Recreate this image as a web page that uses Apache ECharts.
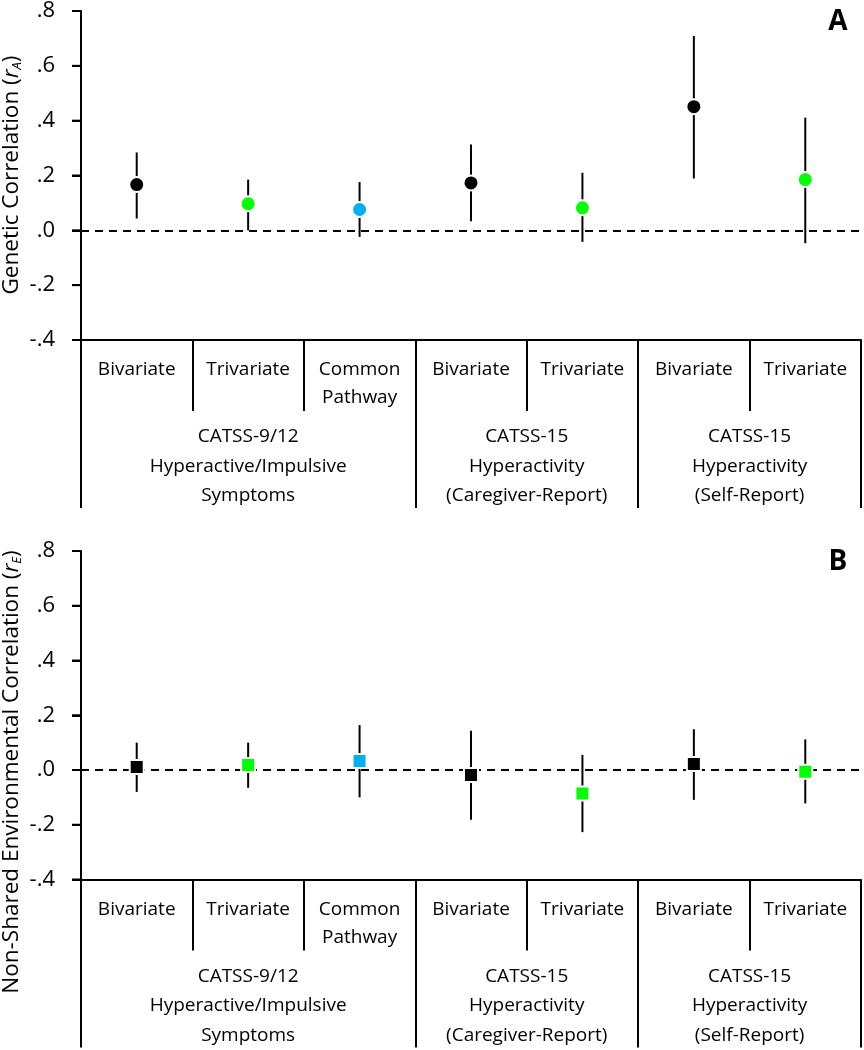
<!DOCTYPE html>
<html>
<head>
<meta charset="utf-8">
<script src="https://cdn.jsdelivr.net/npm/echarts@6/dist/echarts.min.js"></script>
<style>
  html, body { margin: 0; padding: 0; background: #fff; }
  #panelA { width: 864px; height: 540px; }
  #panelB { width: 864px; height: 510px; }
</style>
</head>
<body>
<div id="panelA"></div>
<div id="panelB"></div>
<script>
// ── data ────────────────────────────────────────────────────
const CATEGORIES = ['Bivariate', 'Trivariate', 'Common\nPathway', 'Bivariate', 'Trivariate', 'Bivariate', 'Trivariate']
const GROUPS = [
  'CATSS-9/12\nHyperactive/Impulsive\nSymptoms',
  'CATSS-15\nHyperactivity\n(Caregiver-Report)',
  'CATSS-15\nHyperactivity\n(Self-Report)',
]
const GROUP_EDGES   = [0, 3, 5, 7]
const GROUP_CENTERS = [1.5, 4, 6]
const MODEL_COLORS  = ['#000000', '#00FF00', '#00B0F0', '#000000', '#00FF00', '#000000', '#00FF00']

// panel A: genetic correlation (rA)
const RA_EST = [0.167, 0.097, 0.076, 0.173, 0.082, 0.451, 0.185]
const RA_LO  = [0.043, 0.000, -0.024, 0.033, -0.042, 0.189, -0.047]
const RA_HI  = [0.284, 0.185, 0.176, 0.313, 0.210, 0.709, 0.411]

// panel B: non-shared environmental correlation (rE)
const RE_EST = [0.011, 0.018, 0.033, -0.018, -0.086, 0.022, -0.006]
const RE_LO  = [-0.080, -0.065, -0.100, -0.182, -0.227, -0.109, -0.122]
const RE_HI  = [0.100, 0.100, 0.164, 0.143, 0.055, 0.149, 0.112]

const Y_TICKS = [-0.4, -0.2, 0, 0.2, 0.4, 0.6, 0.8]
const Y_MIN = -0.4, Y_MAX = 0.8, Y_STEP = 0.2

// ── helpers ─────────────────────────────────────────────────
const FONT = 'Open Sans'
const fmtTick = (v) => (v < -1e-9 ? '-' : '') + '.' + Math.round(Math.abs(v) * 10)

function axisName(x, y, label, sub) {
  return {
    id: 'yname', type: 'text', x, y, rotation: Math.PI / 2,
    style: {
      text: `{n|${label} (}{i|r}{s|${sub}}{n|)}`,
      align: 'center', verticalAlign: 'middle',
      rich: {
        n: { fontFamily: FONT, fontSize: 22.5, fill: '#000' },
        i: { fontFamily: FONT, fontSize: 22.5, fontStyle: 'italic', fill: '#000' },
        s: { fontFamily: FONT, fontSize: 13, fontStyle: 'italic', fill: '#000', verticalAlign: 'bottom', padding: [9, 0, 0, 0] },
      },
    },
  }
}

function panelOpt(est, lo, hi, symbol, size, letter, yLabel, ySub, nameY) {
  return {
    animation: false,
    backgroundColor: '#fff',
    grid: { left: 81, top: 10, width: 780, height: 330 },
    xAxis: [{
      type: 'category', data: CATEGORIES,
      axisLine: { onZero: false, lineStyle: { color: '#000', width: 2 } },
      axisTick: { show: true, interval: 0, length: 71, lineStyle: { color: '#000', width: 2 } },
      axisLabel: { interval: 0, color: '#000', fontFamily: FONT, fontSize: 19, lineHeight: 28, margin: 16 },
    }, {
      type: 'value', min: 0, max: 7, position: 'bottom',
      axisLine: { show: false, onZero: false },
      axisTick: { show: true, customValues: GROUP_EDGES, length: 168, lineStyle: { color: '#000', width: 2 } },
      axisLabel: {
        customValues: GROUP_CENTERS, color: '#000', fontFamily: FONT, fontSize: 19, lineHeight: 29.5, margin: 82,
        formatter: (v) => GROUPS[GROUP_CENTERS.indexOf(v)] || '',
      },
      splitLine: { show: false },
    }],
    yAxis: {
      type: 'value', min: Y_MIN, max: Y_MAX, interval: Y_STEP,
      axisLine: { show: true, onZero: false, lineStyle: { color: '#000', width: 2 } },
      axisTick: { show: true, inside: false, length: 9, lineStyle: { color: '#000', width: 2 } },
      axisLabel: { color: '#000', fontFamily: FONT, fontSize: 22, margin: 26, formatter: fmtTick },
      splitLine: { show: false },
    },
    series: [{
      // confidence intervals
      type: 'custom', z: 2,
      data: lo.map((l, i) => [i, l, hi[i]]),
      renderItem: (params, api) => {
        const a = api.coord([api.value(0), api.value(1)])
        const b = api.coord([api.value(0), api.value(2)])
        return {
          type: 'line',
          shape: { x1: a[0], y1: a[1], x2: b[0], y2: b[1] },
          style: { stroke: '#000', lineWidth: 2 },
        }
      },
    }, {
      type: 'scatter', z: 5,
      symbol, symbolSize: size,
      data: est.map((v, i) => ({ value: [i, v], itemStyle: { color: MODEL_COLORS[i] } })),
      itemStyle: { borderColor: '#fff', borderWidth: 2, opacity: 1 },
      markLine: {
        silent: true, symbol: 'none', label: { show: false }, z: 1,
        lineStyle: { color: '#000', width: 2, type: [8, 6] },
        data: [{ yAxis: 0 }],
      },
    }],
    graphic: [
      axisName(12, nameY, yLabel, ySub),
      { id: 'letter', type: 'text', x: 838, y: 22, style: { text: letter, fontFamily: FONT, fontSize: 28, fontWeight: 'bold', fill: '#000', align: 'center', verticalAlign: 'middle' } },
    ],
  }
}

// y-axis tick marks placed through the axis scale (outside ticks, 9px)
function addYTicks(chart) {
  const x0 = chart.convertToPixel({ xAxisIndex: 1 }, 0)
  const elements = Y_TICKS.map((t, i) => {
    const y = chart.convertToPixel({ yAxisIndex: 0 }, t)
    return {
      id: 'ytick' + i, type: 'line', z: 100, silent: true,
      shape: { x1: x0 - 9, y1: y, x2: x0, y2: y },
      style: { stroke: '#000', lineWidth: 2 },
    }
  })
  chart.setOption({ graphic: elements })
}

const chartA = echarts.init(document.getElementById('panelA'), null, { renderer: 'canvas' })
chartA.setOption(panelOpt(RA_EST, RA_LO, RA_HI, 'circle', 15, 'A', 'Genetic Correlation', 'A', 175))
addYTicks(chartA)

const chartB = echarts.init(document.getElementById('panelB'), null, { renderer: 'canvas' })
chartB.setOption(panelOpt(RE_EST, RE_LO, RE_HI, 'rect', 14, 'B', 'Non-Shared Environmental Correlation', 'E', 232))
addYTicks(chartB)
</script>
</body>
</html>
